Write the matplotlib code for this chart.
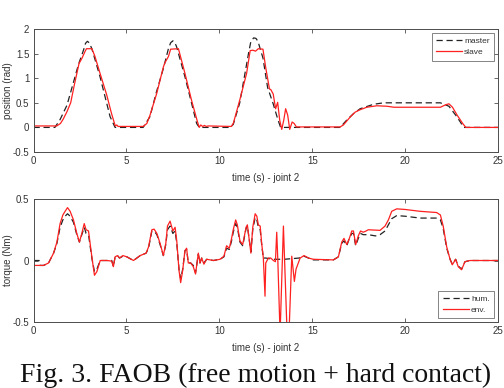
import matplotlib
matplotlib.use("Agg")
import matplotlib.pyplot as plt

plt.rcParams['font.family'] = ['Liberation Sans', 'DejaVu Sans']

# position plot (rad) - master
t_master = [0, 1.15, 1.43, 1.8, 2.1, 2.42, 2.69, 2.8, 2.9, 3.0, 3.14, 3.58, 4.12, 4.39,
            5.9, 6.27, 6.6, 6.99, 7.26, 7.38, 7.5, 7.6, 7.7, 8.15, 8.78, 8.92,
            10.57, 10.75, 11.1, 11.57, 11.7, 11.85, 11.97, 12.08, 12.35, 12.6, 12.9, 13.16, 13.3,
            16.5, 16.86, 17.22, 17.58, 18.3, 18.84, 21.9, 22.36, 22.8, 23.16, 25]
pos_master = [0, 0, 0.16, 0.45, 0.85, 1.28, 1.57, 1.71, 1.75, 1.72, 1.6, 1.03, 0.22, 0,
              0, 0.22, 0.7, 1.2, 1.6, 1.72, 1.76, 1.73, 1.64, 1.03, 0.08, 0,
              0, 0.06, 0.5, 1.5, 1.75, 1.82, 1.81, 1.75, 1.41, 0.81, 0.48, 0.15, 0,
              0, 0.15, 0.28, 0.38, 0.47, 0.5, 0.5, 0.43, 0.21, 0, 0]

# position plot (rad) - slave
t_slave = [0, 1.25, 1.45, 1.6, 1.8, 2.0, 2.2, 2.45, 2.6, 2.78, 2.85, 3.14, 3.3, 3.58, 3.94, 4.2,
           4.4, 4.48, 4.55, 5.9, 6.1, 6.27, 6.63, 6.99, 7.08, 7.26, 7.38, 7.8, 8.15, 8.5, 8.82,
           8.92, 9.0, 9.1, 9.2, 9.3, 9.4, 10.65, 10.76, 11.11, 11.47, 11.66, 11.8, 11.95, 12.1,
           12.35, 12.5, 12.7, 12.77, 12.9, 13.03, 13.14, 13.25, 13.36, 13.47, 13.57, 13.68,
           13.79, 13.92, 14.03, 14.15, 16.5, 16.68, 17.04, 17.31, 17.58, 17.94, 18.48, 19.03,
           19.4, 21.9, 22.18, 22.36, 22.55, 22.8, 23.1, 23.27, 25]
pos_slave = [0.03, 0.03, 0.08, 0.17, 0.32, 0.5, 0.87, 1.3, 1.4, 1.55, 1.6, 1.6, 1.45, 1.1, 0.66,
             0.28, 0.03, 0.05, 0.02, 0.02, 0.08, 0.25, 0.69, 1.23, 1.32, 1.44, 1.59, 1.6, 1.1,
             0.56, 0.12, 0.0, 0.05, 0.02, 0.04, 0.02, 0.03, 0.02, 0.09, 0.57, 1.1, 1.56, 1.57,
             1.55, 1.6, 1.59, 1.21, 0.78, 0.77, 0.68, 0.38, 0.51, 0.15, -0.04, 0.15, 0.38, 0.25,
             -0.04, 0.11, 0.08, 0.01, 0.01, 0.05, 0.21, 0.31, 0.36, 0.41, 0.44, 0.43,
             0.41, 0.41, 0.46, 0.48, 0.41, 0.25, 0.08, 0.0, 0.0]

# torque plot (Nm) - human side
t_hum = [0, 0.3, 0.35, 0.54, 0.81, 1.08, 1.26, 1.43, 1.58, 1.7, 1.83, 1.97, 2.15, 2.33, 2.47,
         2.6, 2.73, 2.83, 2.96, 3.14, 3.28, 3.41, 3.59, 3.95, 4.21, 4.3, 4.39, 4.52, 4.63,
         4.81, 5.02, 5.38, 5.74, 6.06, 6.19, 6.37, 6.49, 6.64, 6.81, 6.99, 7.12, 7.21, 7.35,
         7.5, 7.62, 7.71, 7.83, 7.92, 8.03, 8.15, 8.24, 8.33, 8.46, 8.6, 8.72, 8.87, 8.96,
         9.05, 9.17, 9.32, 9.68, 10.04, 10.25, 10.39, 10.54, 10.66, 10.75, 10.88, 10.97,
         11.11, 11.26, 11.44, 11.51, 11.62, 11.7, 11.8, 11.93, 12.02, 12.1, 12.2, 12.28,
         12.37, 12.5, 12.9, 13.5, 14.3, 14.56, 14.8, 15.06, 16.14, 16.41, 16.59, 16.71,
         16.86, 17.0, 17.13, 17.22, 17.34, 17.48, 17.6, 17.75, 17.9, 18.02, 18.4, 18.65,
         18.92, 19.1, 19.28, 19.55, 20.0, 20.8, 21.7, 21.9, 22.05, 22.24, 22.42, 22.54,
         22.72, 22.86, 23.04, 23.22, 23.49, 25]
tq_hum = [0, 0, -0.04, -0.04, -0.02, 0.06, 0.14, 0.27, 0.33, 0.36, 0.38, 0.36, 0.31, 0.21, 0.15,
          0.21, 0.27, 0.22, 0.21, 0.02, -0.09, -0.07, 0, 0, 0, -0.05, 0.03, 0.04, 0.02,
          0.035, 0.03, 0, 0.04, 0.06, 0.1, 0.24, 0.24, 0.21, 0.13, 0.04, 0.13, 0.25, 0.28,
          0.22, 0.24, 0.14, -0.07, -0.15, -0.07, 0.08, 0.09, -0.02, -0.02, -0.04, -0.1, 0.05, -0.02,
          0.02, -0.02, 0.01, 0, 0.01, 0.03, 0.1, 0.09, 0.16, 0.23, 0.3, 0.27,
          0.15, 0.12, 0.26, 0.28, 0.16, 0.07, 0.25, 0.35, 0.33, 0.27, 0.25, 0.13,
          0.02, 0.02, 0.01, 0.01, 0.02, 0.035, 0.02, 0.005, 0.005, 0.03, 0.14, 0.16,
          0.12, 0.18, 0.22, 0.22, 0.12, 0.18, 0.22, 0.21, 0.21, 0.21, 0.2, 0.21,
          0.24, 0.29, 0.34, 0.365, 0.36, 0.345, 0.345, 0.33, 0.26, 0.1, 0.01, -0.03,
          0.01, -0.045, -0.07, -0.01, 0, 0]

# torque plot (Nm) - environment side
t_env = [0, 0.54, 0.81, 1.08, 1.26, 1.43, 1.58, 1.7, 1.83, 1.97, 2.15, 2.33, 2.47, 2.6, 2.73,
         2.83, 2.96, 3.14, 3.28, 3.41, 3.59, 3.95, 4.21, 4.3, 4.39, 4.52, 4.63, 4.81, 5.02,
         5.38, 5.74, 6.06, 6.19, 6.37, 6.49, 6.64, 6.81, 6.99, 7.12, 7.21, 7.35, 7.5, 7.62,
         7.71, 7.83, 7.92, 8.03, 8.15, 8.24, 8.33, 8.46, 8.6, 8.72, 8.87, 8.96, 9.05, 9.17,
         9.32, 9.68, 10.04, 10.25, 10.39, 10.54, 10.66, 10.75, 10.88, 10.97, 11.11, 11.26,
         11.44, 11.51, 11.62, 11.7, 11.8, 11.93, 12.02, 12.1, 12.2, 12.28, 12.37, 12.46,
         12.5, 12.64, 12.77, 12.91, 13.02, 13.09, 13.15, 13.27, 13.45, 13.65, 13.75, 13.9,
         14.04, 14.13, 14.35, 14.56, 14.8, 15.06, 16.14, 16.41, 16.59, 16.71, 16.86, 17.0,
         17.13, 17.22, 17.34, 17.48, 17.6, 17.75, 17.9, 18.02, 18.65, 18.92, 19.1, 19.28,
         19.55, 20.0, 20.8, 21.7, 21.9, 22.05, 22.24, 22.42, 22.54, 22.72, 22.86, 23.04,
         23.22, 23.49, 25]
tq_env = [-0.04, -0.04, -0.02, 0.06, 0.15, 0.3, 0.37, 0.4, 0.43, 0.4, 0.33, 0.22, 0.15, 0.22, 0.3,
          0.25, 0.24, 0.03, -0.12, -0.09, 0, 0, -0.005, -0.05, 0.03, 0.04, 0.02, 0.04, 0.03,
          0, 0.04, 0.06, 0.11, 0.25, 0.255, 0.22, 0.14, 0.04, 0.14, 0.28, 0.32, 0.24, 0.27,
          0.16, -0.08, -0.18, -0.08, 0.08, 0.1, -0.02, -0.02, -0.05, -0.11, 0.06, -0.02, 0.02, -0.03,
          0.01, 0, 0.01, 0.035, 0.12, 0.1, 0.18, 0.25, 0.33, 0.29, 0.16, 0.13,
          0.27, 0.29, 0.16, 0.06, 0.27, 0.38, 0.36, 0.29, 0.28, 0.14, 0.02, -0.29,
          -0.02, 0.02, 0.02, 0, -0.01, 0.23, 0.0, -0.6, 0.28, -0.6, -0.6, 0.035,
          -0.17, -0.07, 0.02, 0.04, 0.02, 0.01, 0.005, 0.03, 0.15, 0.18, 0.13, 0.18,
          0.24, 0.24, 0.13, 0.2, 0.24, 0.23, 0.24, 0.25, 0.245, 0.28, 0.33, 0.4,
          0.42, 0.415, 0.4, 0.39, 0.37, 0.28, 0.11, 0.01, -0.035, 0.01, -0.05, -0.075,
          -0.01, 0, 0]

xticks = [0, 5, 10, 15, 20, 25]
pos_ticks = [-0.5, 0, 0.5, 1, 1.5, 2]
pos_labels = ['-0.5', '0', '0.5', '1', '1.5', '2']
tq_ticks = [-0.5, 0, 0.5]
tq_labels = ['-0.5', '0', '0.5']

axcol = '#4d4d4d'
txtcol = '#333333'
red = '#ff2020'
blk = '#222222'

fig = plt.figure(figsize=(5.04, 3.88), dpi=100)
ax1 = fig.add_axes([0.0665, 0.6082, 0.9216, 0.317])
ax2 = fig.add_axes([0.0665, 0.1701, 0.9216, 0.317])

ax1.plot(t_master, pos_master, '--', color=blk, lw=0.9, dashes=(5, 3), label='master')
ax1.plot(t_slave, pos_slave, '-', color=red, lw=0.9, label='slave')
ax2.plot(t_hum, tq_hum, '--', color=blk, lw=0.9, dashes=(5, 3), label='hum.')
ax2.plot(t_env, tq_env, '-', color=red, lw=0.9, label='env.')

for ax, yt, yl, ylab in [(ax1, pos_ticks, pos_labels, 'position (rad)'),
                         (ax2, tq_ticks, tq_labels, 'torque (Nm)')]:
    ax.set_xlim(0, 25)
    ax.set_ylim(yt[0], yt[-1])
    ax.set_xticks(xticks)
    ax.set_xticklabels([str(x) for x in xticks])
    ax.set_yticks(yt)
    ax.set_yticklabels(yl)
    ax.tick_params(direction='in', top=True, right=True, length=3, width=0.6,
                   color=axcol, labelsize=7, labelcolor=txtcol, pad=3)
    for sp in ax.spines.values():
        sp.set_color(axcol)
        sp.set_linewidth(0.7)
    ax.set_xlabel('time (s) - joint 2', fontsize=7, color=txtcol, labelpad=5)
    ax.set_ylabel(ylab, fontsize=7, color=txtcol)
    ax.yaxis.set_label_coords(-0.045, 0.5)

leg_kw = dict(fontsize=6, frameon=True, fancybox=False, edgecolor=axcol,
              handlelength=3.2, handletextpad=0.2, borderpad=0.5, labelspacing=0.4,
              borderaxespad=0.5)
l1 = ax1.legend(loc='upper right', **leg_kw)
l2 = ax2.legend(loc='lower right', **leg_kw)
for l in (l1, l2):
    l.get_frame().set_linewidth(0.6)
    for txt in l.get_texts():
        txt.set_color(txtcol)

fig.text(0.04, 0.016, 'Fig. 3. FAOB (free motion + hard contact)',
         family='Liberation Serif', fontsize=20, color='#111111', va='baseline')

fig.savefig('out.png', dpi=100)
